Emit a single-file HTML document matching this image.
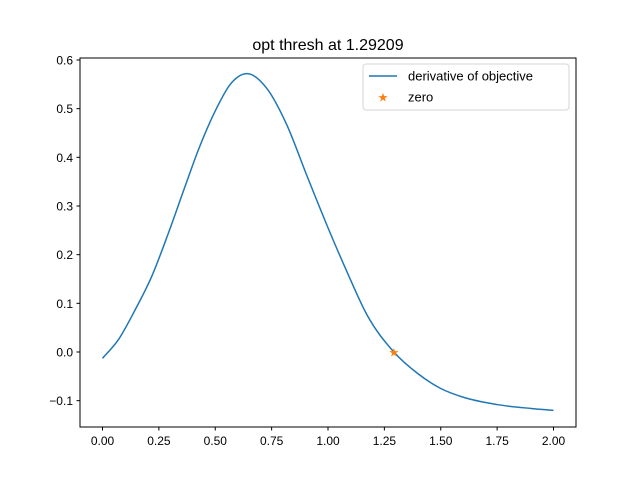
<!DOCTYPE html>
<html><head><meta charset="utf-8"><style>
body{margin:0;background:#fff;}
svg{display:block;font-family:"Liberation Sans","DejaVu Sans",sans-serif;}
</style></head><body>
<svg id="chart" width="640" height="480">
<rect x="0" y="0" width="640" height="480" fill="#fff"/>
<text x="328" y="50" font-size="16" text-anchor="middle">opt thresh at 1.29209</text>
<g id="ticks"></g>
<g id="series"></g>
<rect x="80" y="58" width="496" height="369" fill="none" stroke="#000" stroke-width="1"/>
<g>
<rect x="363" y="64" width="206" height="46" rx="3" fill="#fff" stroke="#ccc" stroke-opacity="0.8"/>
<line x1="369" y1="76" x2="397" y2="76" stroke="#1f77b4" stroke-width="1.5"/>
<text x="408" y="80.5" font-size="13">derivative of objective</text>
<text x="383" y="101.5" font-size="12" fill="#ff7f0e" text-anchor="middle">★</text>
<text x="408" y="101.5" font-size="13">zero</text>
</g>
</svg>
<script>
const xs = [0,0.070,0.144,0.218,0.292,0.366,0.425,0.506,0.565,0.642,0.728,0.817,0.905,0.994,1.083,1.172,1.292,1.4,1.5,1.6,1.75,1.9,2.0];
const ys = [-0.013,0.025,0.086,0.155,0.244,0.340,0.415,0.501,0.549,0.572,0.542,0.467,0.364,0.262,0.166,0.077,0.0,-0.045,-0.075,-0.093,-0.108,-0.116,-0.12];
const zeroX = [1.29209];
const zeroY = [0];
const xTicks = [0,0.25,0.5,0.75,1.0,1.25,1.5,1.75,2.0];
const xTickLabels = ["0.00","0.25","0.50","0.75","1.00","1.25","1.50","1.75","2.00"];
const yTicks = [-0.1,0,0.1,0.2,0.3,0.4,0.5,0.6];
const yTickLabels = ["−0.1","0.0","0.1","0.2","0.3","0.4","0.5","0.6"];

const sx = v => 102.5 + v*225.5;
const sy = v => 352 - v*486.7;
const NS = "http://www.w3.org/2000/svg";
const tg = document.getElementById('ticks');
const sg = document.getElementById('series');
function mk(tag, attrs, parent){const e=document.createElementNS(NS,tag);for(const k in attrs)e.setAttribute(k,attrs[k]);parent.appendChild(e);return e;}

xTicks.forEach((t,i)=>{
  const l=mk('line',{x1:sx(t),x2:sx(t),y1:427,y2:430.5,stroke:'#000'},tg);
  
  
  const tx=mk('text',{x:sx(t),y:445,'font-size':12,'text-anchor':'middle'},tg);
  tx.textContent=xTickLabels[i];
  
  
});
yTicks.forEach((t,i)=>{
  const l=mk('line',{x1:76.5,x2:80,y1:sy(t),y2:sy(t),stroke:'#000'},tg);
  
  
  const tx=mk('text',{x:73,y:sy(t)+4.5,'font-size':12,'text-anchor':'end'},tg);
  tx.textContent=yTickLabels[i];
  
  
});

const n = xs.length;
const m = xs.map((x,i)=>{
  if(i===0) return (ys[1]-ys[0])/(xs[1]-xs[0]);
  if(i===n-1) return (ys[n-1]-ys[n-2])/(xs[n-1]-xs[n-2]);
  const h0=xs[i]-xs[i-1], h1=xs[i+1]-xs[i];
  const d0=(ys[i]-ys[i-1])/h0, d1=(ys[i+1]-ys[i])/h1;
  return (d0*h1+d1*h0)/(h0+h1);
});
let d = `M${sx(xs[0])},${sy(ys[0])}`;
for(let i=0;i<n-1;i++){
  const h=xs[i+1]-xs[i];
  const c1x=xs[i]+h/3, c1y=ys[i]+m[i]*h/3;
  const c2x=xs[i+1]-h/3, c2y=ys[i+1]-m[i+1]*h/3;
  d+=` C${sx(c1x)},${sy(c1y)} ${sx(c2x)},${sy(c2y)} ${sx(xs[i+1])},${sy(ys[i+1])}`;
}
const path=mk('path',{d:d,fill:'none',stroke:'#1f77b4','stroke-width':1.5},sg);



zeroX.forEach((x,i)=>{
  const s=mk('text',{x:sx(x),y:sy(zeroY[i])+4.5,'font-size':12,fill:'#ff7f0e','text-anchor':'middle'},sg);
  s.textContent='★';
  
  
});
</script>
</body></html>
